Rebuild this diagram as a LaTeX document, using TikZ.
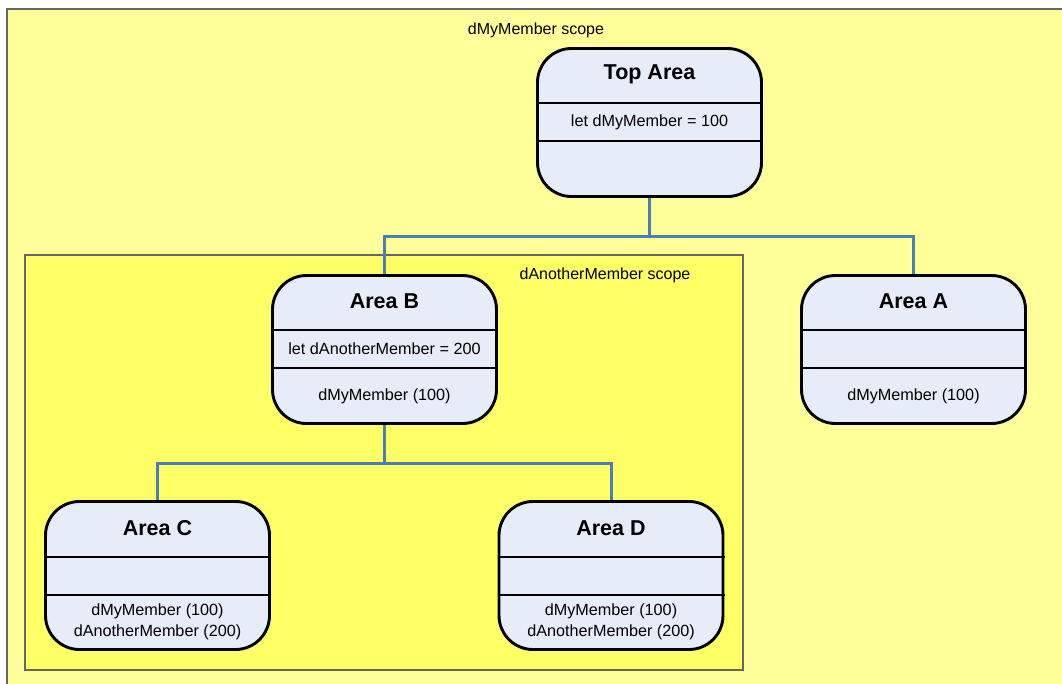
\documentclass[tikz,border=0pt]{standalone}
\usepackage{fontspec}
\setmainfont{Liberation Sans}
\definecolor{scopeouter}{HTML}{FFFF99}
\definecolor{scopeinner}{HTML}{FFFF66}
\definecolor{areafill}{HTML}{E6ECF8}
\definecolor{linkblue}{HTML}{4A7EBB}
\begin{document}
\begin{tikzpicture}[x=1pt, y=-1pt,
  area/.style={draw, line width=2.9pt, fill=areafill, rounded corners=34pt,
    minimum width=224pt, minimum height=148pt, inner sep=0pt},
  divider/.style={line width=2.9pt},
  title/.style={font=\fontsize{21.5}{26}\selectfont\bfseries},
  member/.style={font=\fontsize{16.2}{20.5}\selectfont, align=center, inner sep=0pt},
  link/.style={draw=linkblue, line width=3pt},
  scopebox/.style={draw=black!60, line width=1.3pt},
  scopelabel/.style={font=\fontsize{16}{19}\selectfont}]
  \useasboundingbox (0,0) rectangle (1062,683);

  % scopes
  \filldraw [scopebox, fill=scopeouter] (7,9) rectangle (1075,695);
  \node [scopelabel] (outerLabel) at (536,30) {dMyMember scope};
  \filldraw [scopebox, fill=scopeinner] (25,255) rectangle (743,670);
  \node [scopelabel] (innerLabel) at (605,275) {dAnotherMember scope};

  % areas
  \node [area] (top) at (649.5,122.5) {};
  \draw [divider] (536,103) -- (763,103);
  \draw [divider] (536,141) -- (763,141);
  \node [title] (topTitle) at (649.5,74) {Top Area};
  \node [member] (topLet) at (649.5,122) {let dMyMember = 100};

  \node [area] (areaB) at (384.5,349.5) {};
  \draw [divider] (271,330) -- (498,330);
  \draw [divider] (271,368) -- (498,368);
  \node [title] (bTitle) at (384.5,301) {Area B};
  \node [member] (bLet) at (384.5,349) {let dAnotherMember = 200};
  \node [member] (bSees) at (384.5,396) {dMyMember (100)};

  \node [area] (areaA) at (913.5,349.5) {};
  \draw [divider] (800,330) -- (1027,330);
  \draw [divider] (800,368) -- (1027,368);
  \node [title] (aTitle) at (913.5,301) {Area A};
  \node [member] (aSees) at (913.5,396) {dMyMember (100)};

  \node [area] (areaC) at (157.5,575.5) {};
  \draw [divider] (44,557) -- (271,557);
  \draw [divider] (44,595) -- (271,595);
  \node [title] (cTitle) at (157.5,528) {Area C};
  \node [member] (cSees) at (157.5,622) {dMyMember (100)\\dAnotherMember (200)};

  \node [area] (areaD) at (611,575.5) {};
  \draw [divider] (497.5,557) -- (724.5,557);
  \draw [divider] (497.5,595) -- (724.5,595);
  \node [title] (dTitle) at (611,528) {Area D};
  \node [member] (dSees) at (611,622) {dMyMember (100)\\dAnotherMember (200)};

  % links
  \coordinate (topJoin) at (649.5,236);
  \draw [link] (top.south) -- (topJoin) -| (areaB.north);
  \draw [link] (topJoin) -| (areaA.north);
  \coordinate (bJoin) at (384.5,463);
  \draw [link] (areaB.south) -- (bJoin) -| (areaC.north);
  \draw [link] (bJoin) -| (areaD.north);
\end{tikzpicture}
\end{document}
